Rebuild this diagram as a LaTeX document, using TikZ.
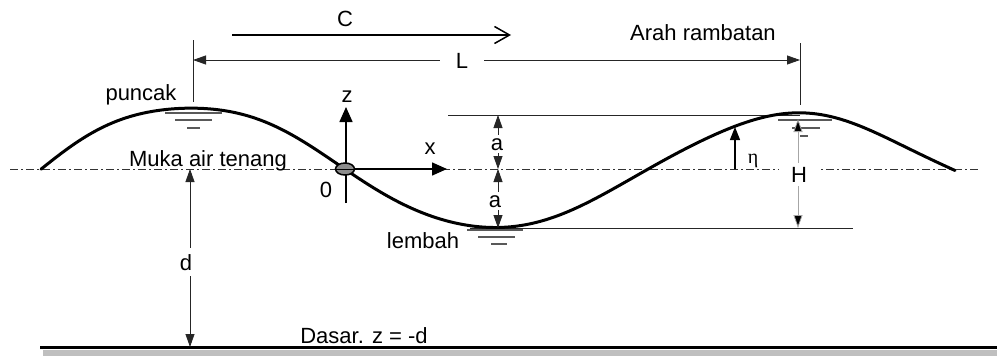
\documentclass[tikz,border=0pt]{standalone}
\usepackage{fontspec}
\setmainfont{Liberation Sans}
\newfontfamily\serifgr{Liberation Serif}
\usetikzlibrary{arrows.meta,shapes.geometric}
\begin{document}
\begin{tikzpicture}[x=1pt,y=-1pt,
  lbl/.style={font=\fontsize{22}{26}\selectfont, inner sep=0pt, anchor=base},
  gap/.style={fill=white},
  thin/.style={line width=0.8pt, draw=black!85},
  dimarr/.style={thin, arrows={Triangle[length=13pt,width=9pt]-Triangle[length=13pt,width=9pt]}},
  axis/.style={line width=1.5pt, arrows={-Triangle[length=15pt,width=13pt]}},
  wave/.style={line width=3pt, line cap=round, line join=round},
  swl/.style={line width=1.4pt, draw=black!65},
  still/.style={line width=0.8pt, draw=black!80, dash pattern=on 8pt off 3pt on 2pt off 3pt}
]
\useasboundingbox (0,0) rectangle (997,356);

% ground
\fill[black!25] (43,349.5) rectangle (997,356);
\coordinate (g0) at (40,347);
\coordinate (g1) at (997,347);
\draw[line width=3pt] (g0) -- (g1);

% still water level
\coordinate (s0) at (10,169);
\coordinate (s1) at (980,169);
\draw[still] (s0) -- (s1);

% reference horizontal lines
\coordinate (ttop0) at (448,115);
\coordinate (ttop1) at (800,115);
\draw[thin] (ttop0) -- (ttop1);
\coordinate (tbot0) at (470,228);
\coordinate (tbot1) at (853,228);
\draw[thin] (tbot0) -- (tbot1);

% wave
\draw[wave] plot[domain=41:955, samples=300, variable=\t]
  (\t, {169 - (62 - 7*(\t-41)/914) * cos(0.59308*(\t-193))
        * (1 + (0.25 - 0.45*(\t-41)/914) * pow(sin(0.59308*(\t-193)),2))});

% water level symbols
\draw[swl] (165,113) -- (222,113);
\draw[swl] (175,120) -- (212,120);
\draw[swl] (187,128) -- (200,128);
\draw[swl] (467,230) -- (523,230);
\draw[swl] (478,237) -- (515,237);
\draw[swl] (491,244) -- (507,244);
\draw[swl] (778,120) -- (832,120);
\draw[swl] (792,128) -- (820,128);
\draw[swl] (800,136) -- (808,136);

% C arrow
\coordinate (c0) at (232,35);
\coordinate (c1) at (511,35);
\draw[line width=1.5pt, arrows={-Straight Barb[length=15pt,width=17pt,line width=1.5pt]}] (c0) -- (c1);
\node[lbl] (C) at (345,26) {C};
\node[lbl] (arah) at (703,41) {Arah rambatan};

% L dimension
\coordinate (e0a) at (193,40);
\coordinate (e0b) at (193,102);
\coordinate (e1a) at (800,43);
\coordinate (e1b) at (800,105);
\draw[thin] (e0a) -- (e0b);
\draw[thin] (e1a) -- (e1b);
\coordinate (L0) at (193,60);
\coordinate (L1) at (800,60);
\draw[dimarr] (L0) -- (L1);
\node[lbl, gap, inner xsep=16pt, inner ysep=3pt] (L) at (462,68) {L};

% depth d
\coordinate (d0) at (190,169);
\coordinate (d1) at (190,347);
\draw[dimarr] (d0) -- (d1);
\node[lbl, gap, inner xsep=2pt, inner ysep=6pt] (d) at (186,270) {d};

% amplitude a
\coordinate (a0) at (498,115);
\coordinate (a1) at (498,169);
\coordinate (a2) at (498,228);
\draw[dimarr] (a0) -- (a1);
\draw[dimarr] (a1) -- (a2);
\node[lbl, gap, inner sep=3pt] (la1) at (497,150) {a};
\node[lbl, gap, inner sep=3pt] (la2) at (495,207) {a};

% wave height H
\coordinate (h0) at (798,119);
\coordinate (h1) at (798,228);
\draw[line width=0.8pt, draw=black!35, arrows={Triangle[length=13pt,width=9pt,fill=black]-Triangle[length=13pt,width=9pt,fill=black]}] (h0) -- (h1);
\node[lbl, gap, inner xsep=12pt, inner ysep=4pt] (H) at (799,182) {H};

% eta
\coordinate (n0) at (735,169);
\coordinate (n1) at (735,127);
\draw[line width=1.2pt, arrows={-Triangle[length=13pt,width=10pt]}] (n0) -- (n1);
\node[font=\serifgr\fontsize{20}{24}\selectfont, inner sep=0pt, anchor=base] (eta) at (753,163) {η};

% axes
\coordinate (o) at (345,169);
\coordinate (zb) at (346,203);
\coordinate (zt) at (346,107);
\coordinate (xt) at (447,169);
\draw[axis] (zb) -- (zt);
\draw[axis] (o) -- (xt);
\node[draw=black, line width=1.5pt, fill=black!45, ellipse, minimum width=19pt, minimum height=12pt, inner sep=0pt] (orig) at (o) {};
\draw[line width=0.6pt] (orig.west) -- (orig.east);
\node[lbl] (z) at (347,102) {z};
\node[lbl] (x) at (430,154) {x};
\node[lbl] (zero) at (326,197) {0};

% labels
\node[lbl] (puncak) at (141,100) {puncak};
\node[lbl] (muka) at (208,166) {Muka air tenang};
\node[lbl] (lembah) at (423,248) {lembah};
\node[lbl] (dasar) at (364,343) {Dasar. z = -d};
\end{tikzpicture}
\end{document}
